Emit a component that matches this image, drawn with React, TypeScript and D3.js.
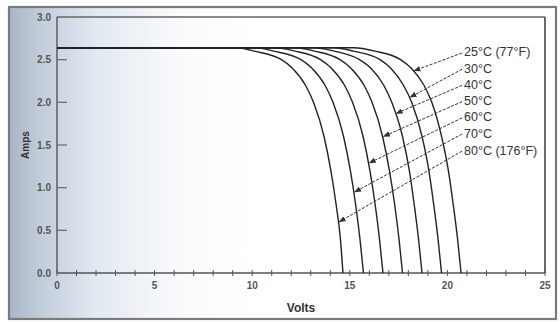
import React from "react";
import * as d3 from "d3";

const yTicks = [0, 0.5, 1.0, 1.5, 2.0, 2.5, 3.0];
const xTickLabels = [0, 5, 10, 15, 20, 25];
const xMinorTicks = d3.range(0, 26, 1);

// current levels (A) shared by all the curves
const currents = [2.64, 2.64, 2.6, 2.5, 2.4, 2.2, 2.0, 1.6, 1.2, 0.8, 0.4, 0];

// voltage read at each current level, one array per temperature
const v25 = [0, 15.2, 16.3, 17.6, 18.15, 18.8, 19.2, 19.7, 20.05, 20.3, 20.52, 20.7];
const v30 = [0, 14.2, 15.2, 16.55, 17.1, 17.75, 18.17, 18.7, 19.05, 19.3, 19.52, 19.7];
const v40 = [0, 13.2, 14.2, 15.5, 16.08, 16.74, 17.15, 17.7, 18.05, 18.3, 18.52, 18.7];
const v50 = [0, 12.2, 13.2, 14.5, 15.06, 15.73, 16.14, 16.68, 17.03, 17.3, 17.52, 17.7];
const v60 = [0, 11.2, 12.2, 13.5, 14.06, 14.73, 15.14, 15.68, 16.03, 16.3, 16.52, 16.7];
const v70 = [0, 10.2, 11.1, 12.5, 13.06, 13.73, 14.14, 14.68, 15.03, 15.3, 15.52, 15.7];
const v80 = [0, 9.2, 10.1, 11.5, 12.06, 12.73, 13.14, 13.68, 14.03, 14.3, 14.52, 14.65];

const seriesVolts = [v25, v30, v40, v50, v60, v70, v80];
const labels = ["25°C (77°F)", "30°C", "40°C", "50°C", "60°C", "70°C", "80°C (176°F)"];
const labelAmps = [2.59, 2.40, 2.21, 2.02, 1.83, 1.64, 1.44];
const labelVolt = 20.75;
const arrowAmps = [2.37, 2.06, 1.87, 1.6, 1.29, 0.95, 0.6];

const W = 560;
const H = 322;
const x = d3.scaleLinear().domain([0, 25]).range([57, 545]);
const y = d3.scaleLinear().domain([0, 3]).range([273, 17]);

function voltAt(volts: number[], amp: number): number {
  for (let i = 0; i < currents.length - 1; i++) {
    const a0 = currents[i], a1 = currents[i + 1];
    if (amp <= a0 && amp >= a1 && a0 !== a1) {
      const t = (a0 - amp) / (a0 - a1);
      return volts[i] + t * (volts[i + 1] - volts[i]);
    }
  }
  return volts[volts.length - 1];
}

export default function App() {
  const line = d3
    .line<[number, number]>()
    .x((d) => x(d[0]))
    .y((d) => y(d[1]))
    .curve(d3.curveMonotoneX);

  const font = "'Liberation Sans', Arial, sans-serif";
  const x0 = x(0), x1 = x(25), y0 = y(0), y1 = y(3);

  return (
    <svg
      width={W}
      height={H}
      style={{ position: "fixed", left: 0, top: 0, background: "#fff" }}
      fontFamily={font}
    >
      <defs>
        <linearGradient id="bg" x1="0" y1="0" x2="1" y2="0">
          <stop offset="0" stopColor="#a9b5c6" />
          <stop offset="0.06" stopColor="#c3cedb" />
          <stop offset="0.16" stopColor="#e2e9f1" />
          <stop offset="0.3" stopColor="#f8fafc" />
          <stop offset="0.45" stopColor="#ffffff" />
        </linearGradient>
        <marker id="ah" viewBox="0 0 10 10" refX="9" refY="5" markerWidth="7" markerHeight="7" orient="auto">
          <path d="M0,1 L10,5 L0,9 z" fill="#333" />
        </marker>
      </defs>
      <rect x={9} y={7} width={547} height={312} fill="url(#bg)" stroke="#7a7a7a" strokeWidth={2.2} />

      {/* plot frame */}
      <line x1={x0} x2={x1} y1={y1} y2={y1} stroke="#666" strokeWidth={1.5} />
      <line x1={x1} x2={x1} y1={y1} y2={y0} stroke="#444" strokeWidth={1.6} />
      <line x1={x0} x2={x0} y1={y1} y2={y0} stroke="#555" strokeWidth={1.4} />
      <line x1={x0} x2={x1} y1={y0} y2={y0} stroke="#555" strokeWidth={1.4} />

      {/* y ticks */}
      {yTicks.map((t) => (
        <g key={"y" + t}>
          {t > 0 && t < 3 && (
            <line x1={x0} x2={x0 + 10} y1={y(t)} y2={y(t)} stroke="#666" strokeWidth={1.2} />
          )}
          <text x={x0 - 6} y={y(t) + 3.5} textAnchor="end" fontSize={10} fontWeight="bold" fill="#555">
            {t.toFixed(1)}
          </text>
        </g>
      ))}

      {/* x ticks */}
      {xMinorTicks.map((t) => (
        <line key={"xm" + t} x1={x(t)} x2={x(t)} y1={y0 - 3} y2={y0 + 3} stroke="#555" strokeWidth={1} />
      ))}
      {xTickLabels.map((t) => (
        <text key={"xl" + t} x={x(t)} y={y0 + 16} textAnchor="middle" fontSize={10} fontWeight="bold" fill="#555">
          {t}
        </text>
      ))}

      <text x={(x0 + x1) / 2} y={312} textAnchor="middle" fontSize={12} fontWeight="bold" fill="#333">
        Volts
      </text>
      <text
        transform={`translate(29,${(y0 + y1) / 2}) rotate(-90)`}
        textAnchor="middle"
        fontSize={10}
        fontWeight="bold"
        fill="#333"
      >
        Amps
      </text>

      {/* curves */}
      {seriesVolts.map((vs, i) => (
        <path
          key={"c" + i}
          d={line(vs.map((v, j) => [v, currents[j]] as [number, number])) || ""}
          fill="none"
          stroke="#222"
          strokeWidth={1.4}
        />
      ))}

      {/* labels and arrows */}
      {labels.map((lab, i) => {
        const lx = x(labelVolt);
        const ly = y(labelAmps[i]);
        const tv = voltAt(seriesVolts[i], arrowAmps[i]);
        return (
          <g key={"l" + i}>
            <line
              x1={lx}
              y1={ly + 1}
              x2={x(tv) + 1}
              y2={y(arrowAmps[i])}
              stroke="#333"
              strokeWidth={1}
              strokeDasharray="3,1.5"
              markerEnd="url(#ah)"
            />
            <text x={lx + 2} y={ly + 4.5} fontSize={12.5} fill="#333">
              {lab}
            </text>
          </g>
        );
      })}
    </svg>
  );
}
